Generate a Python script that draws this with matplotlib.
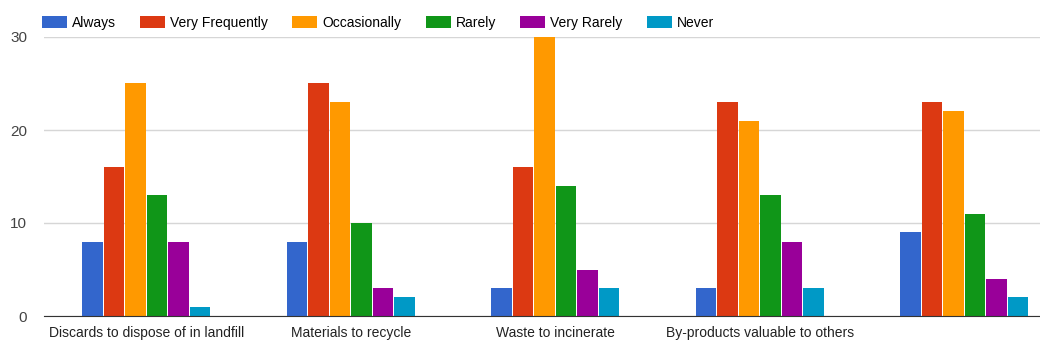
import numpy as np
import matplotlib
matplotlib.use("Agg")
from matplotlib import pyplot as plt

plt.rcParams['font.family'] = ['Liberation Sans', 'DejaVu Sans']

categories = ["Discards to dispose of in landfill", "Materials to recycle",
              "Waste to incinerate", "By-products valuable to others", ""]
series = ["Always", "Very Frequently", "Occasionally", "Rarely", "Very Rarely", "Never"]
always = [8, 8, 3, 3, 9]
very_frequently = [16, 25, 16, 23, 23]
occasionally = [25, 23, 30, 21, 22]
rarely = [13, 10, 14, 13, 11]
very_rarely = [8, 3, 5, 8, 4]
never = [1, 2, 3, 3, 2]
yticks = [0, 10, 20, 30]

colors = ["#3366cc", "#dc3912", "#ff9900", "#109618", "#990099", "#0099c6"]
values = [always, very_frequently, occasionally, rarely, very_rarely, never]

fig = plt.figure(figsize=(10.4, 3.51), dpi=100)
ax = fig.add_axes([44 / 1040, 1 - 316 / 351, 1 - 44 / 1040, (316 - 37) / 351])

x = np.arange(len(categories))
step = 0.105
for i, (name, vals) in enumerate(zip(series, values)):
    ax.bar(x + (i - 2.5) * step, vals, width=0.1, color=colors[i], label=name, zorder=3)

ax.set_xlim(-0.5, 4.37)
ax.set_ylim(0, 30)
ax.set_yticks(yticks)
ax.set_yticklabels([str(t) for t in yticks], color="#444444", fontsize=11)
ax.set_xticks(x)
ax.set_xticklabels(categories, fontsize=10, color="#222222")
ax.tick_params(axis="both", length=0)
ax.tick_params(axis="y", pad=12)
ax.tick_params(axis="x", pad=7)
ax.yaxis.grid(True, color="#d6d6d6", linewidth=1, zorder=0)
for s in ["top", "right", "left"]:
    ax.spines[s].set_visible(False)
ax.spines["bottom"].set_color("#333333")
ax.spines["bottom"].set_zorder(4)

ax.legend(loc="lower left", bbox_to_anchor=(-0.002, 1.025), ncol=6, frameon=False,
          fontsize=10, handlelength=1.8, handleheight=0.95, handletextpad=0.36,
          columnspacing=1.75, borderaxespad=0.0, borderpad=0.0)

fig.savefig("out.png", dpi=100)
